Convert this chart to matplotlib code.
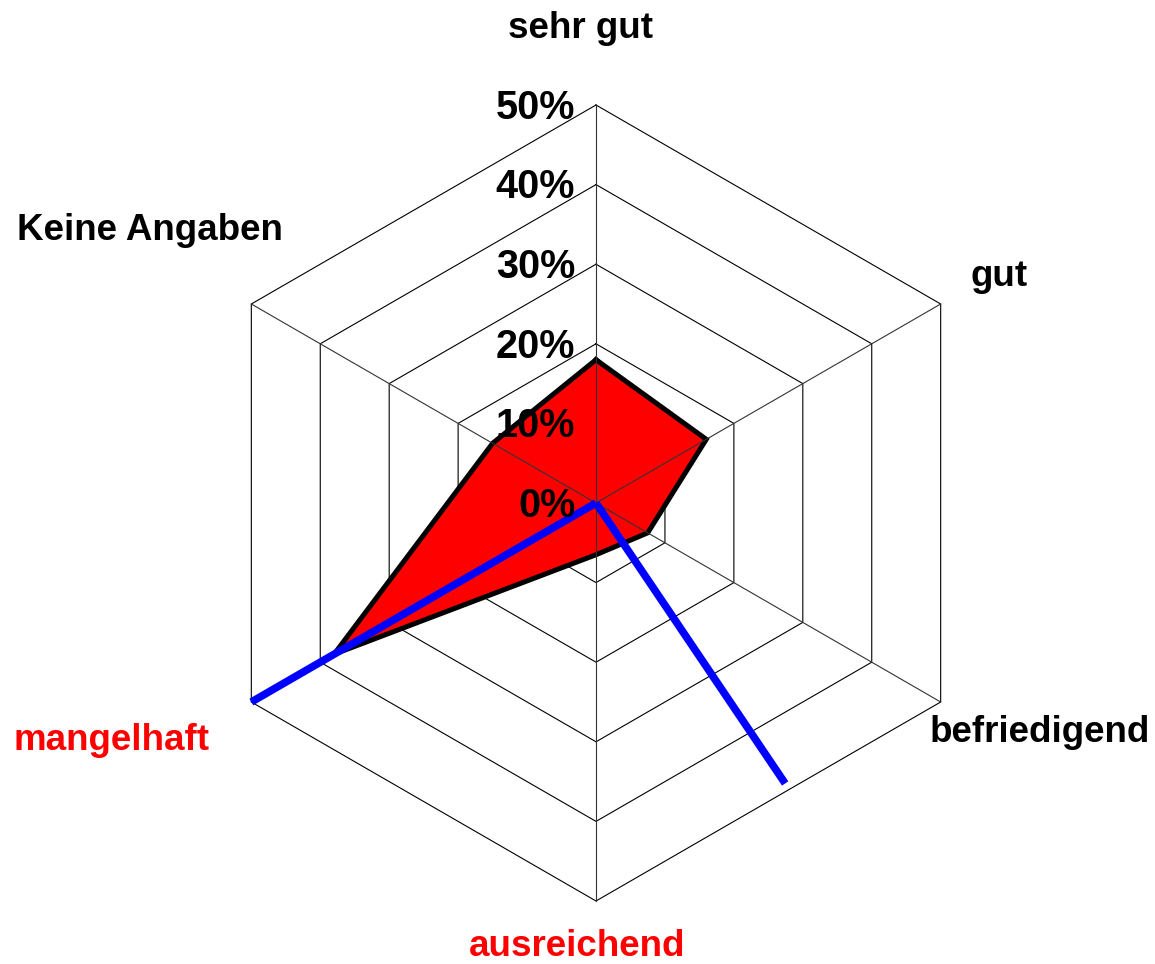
"""
Radar chart of grade distribution (sehr gut .. Keine Angaben).

Run:
    python plot.py
"""

import numpy as np
import matplotlib.pyplot as plt

# ------------------------------------------------------------------
# Data
# ------------------------------------------------------------------

CATEGORIES = ["sehr gut", "gut", "befriedigend", "ausreichend", "mangelhaft", "Keine Angaben"]
LABEL_COLORS = ["black", "black", "black", "red", "red", "black"]
SHARES = [18, 16, 7.5, 6.5, 38, 15]          # percent
RING_LEVELS = [0, 10, 20, 30, 40, 50]
RING_LABELS = ["0%", "10%", "20%", "30%", "40%", "50%"]

# blue pointer lines: direction (deg, clockwise from top) and length (percent)
POINTER_ANGLES = [240, 146]
POINTER_VALUES = [50, 42.5]

# ------------------------------------------------------------------
# Layout
# ------------------------------------------------------------------

W, H = 1155, 964
CX, CY, R50 = 596, 503, 398      # centre and 50% radius in pixels
FONT = "Liberation Sans"
FS = 26.5
FS_RING = 28.5

# label centres in pixels (x, y from top)
LABEL_POS = [(581, 28), (999, 276), (1040, 733), (577, 947), (111, 740), (150, 231)]


def main() -> None:
    fig = plt.figure(figsize=(W / 100, H / 100), dpi=100)
    ax = fig.add_axes(
        [(CX - R50) / W, (H - CY - R50) / H, 2 * R50 / W, 2 * R50 / H],
        projection="polar",
    )
    ax.set_theta_zero_location("N")
    ax.set_theta_direction(-1)
    ax.set_ylim(0, max(RING_LEVELS))
    ax.axis("off")

    n = len(CATEGORIES)
    theta = np.linspace(0, 2 * np.pi, n, endpoint=False)
    theta_closed = np.append(theta, theta[0])

    # hexagonal rings
    for lvl in RING_LEVELS[1:]:
        ax.plot(theta_closed, [lvl] * (n + 1), color="black", lw=0.8, zorder=1, clip_on=False)

    # data polygon
    vals = np.append(SHARES, SHARES[0])
    ax.fill(theta_closed, vals, color="#ff0000", zorder=2)
    ax.plot(theta_closed, vals, color="black", lw=3.6, zorder=3, solid_joinstyle="miter")

    # spokes
    for t in theta:
        ax.plot([t, t], [0, max(RING_LEVELS)], color="#333333", lw=0.8, zorder=3.5, clip_on=False)

    # blue pointers
    for a, v in zip(POINTER_ANGLES, POINTER_VALUES):
        ax.plot([0, np.deg2rad(a)], [0, v], color="#0000ff", lw=5.5, zorder=4,
                solid_capstyle="butt", clip_on=False)

    # ring labels (glyphs centred on the ring level)
    for lvl, lab in zip(RING_LEVELS, RING_LABELS):
        ax.annotate(lab, xy=(0, lvl), xytext=(-15, -10), textcoords="offset points",
                    ha="right", va="baseline", fontsize=FS_RING, fontweight="bold",
                    family=FONT, zorder=5, annotation_clip=False)

    # category labels
    for lab, col, (px, py) in zip(CATEGORIES, LABEL_COLORS, LABEL_POS):
        fig.text(px / W, 1 - py / H, lab, ha="center", va="center", color=col,
                 fontsize=FS, fontweight="bold", family=FONT)

    fig.savefig("out.png", dpi=100)


if __name__ == "__main__":
    main()
